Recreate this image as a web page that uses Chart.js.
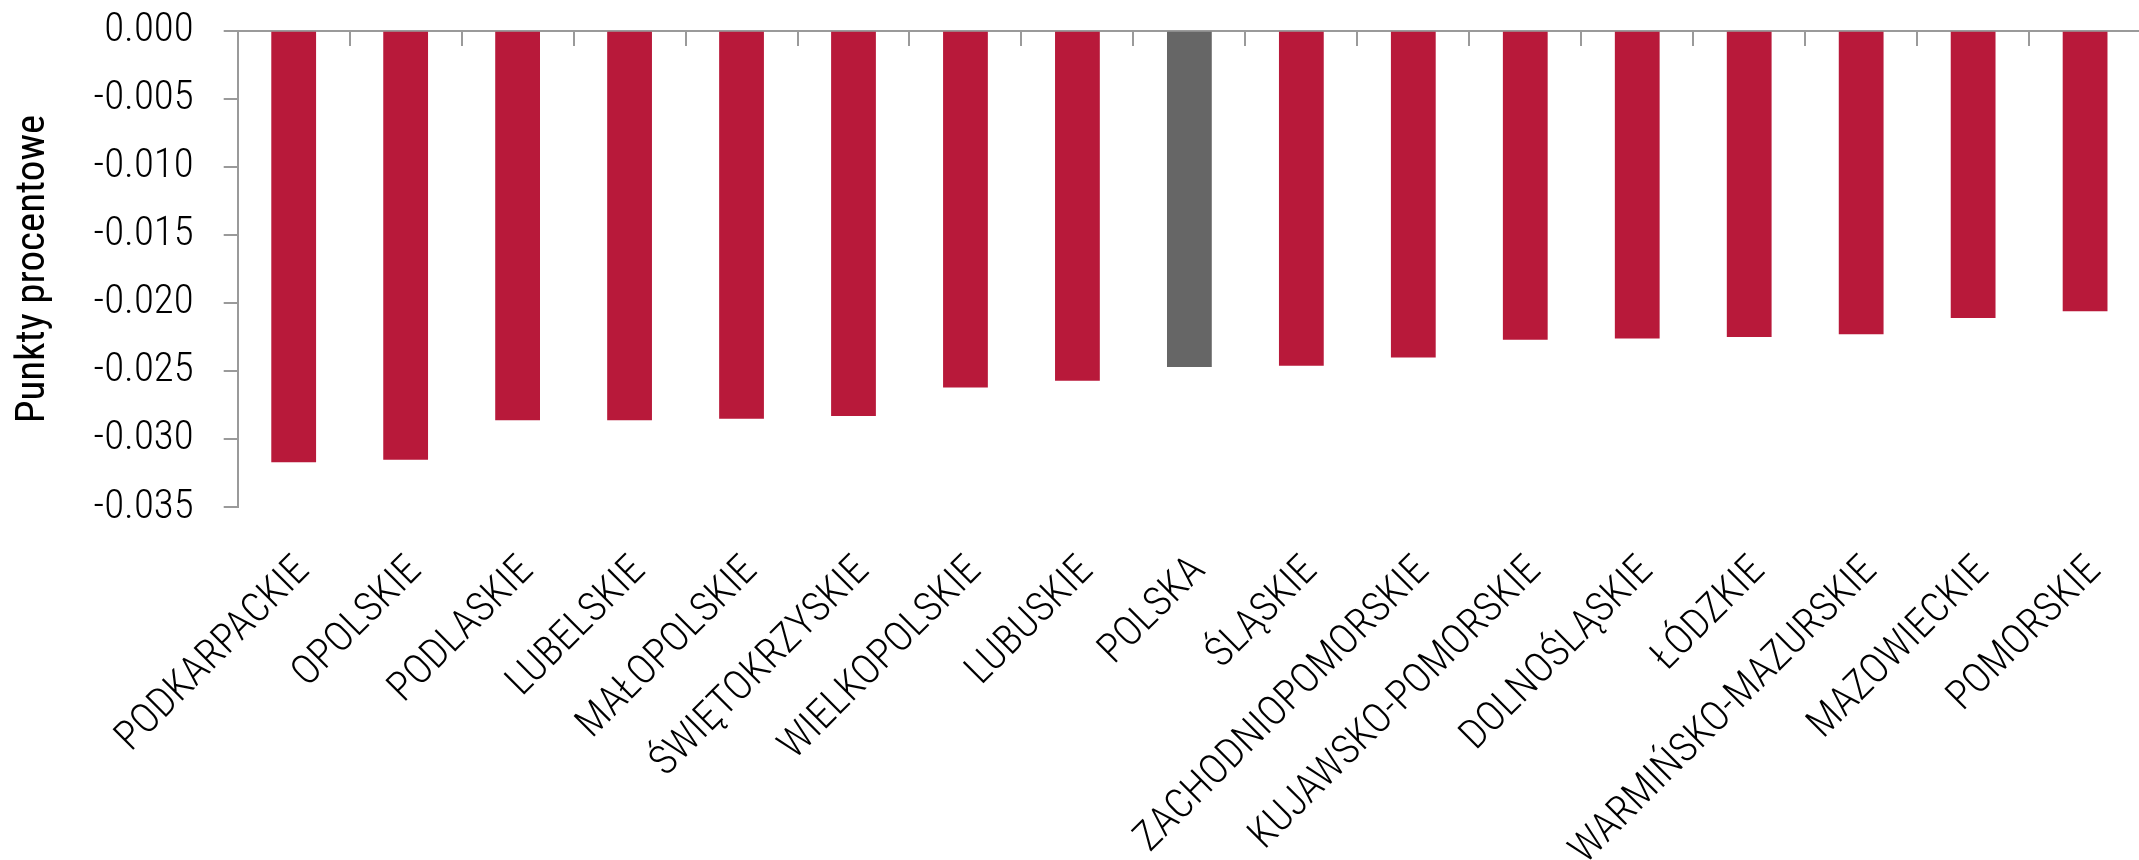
<!DOCTYPE html>
<html>
<head>
<meta charset="utf-8">
<script src="https://cdn.jsdelivr.net/npm/chart.js@4.4.0/dist/chart.umd.min.js"></script>
<style>
  html, body { margin: 0; padding: 0; background: #fff; overflow: hidden; }
  /* plot runs a little past the right edge of the window, as in the original */
  #wrap { width: 2160px; height: 860px; }
</style>
</head>
<body>
<div id="wrap"><canvas id="chart"></canvas></div>
<script>
var regions = ["PODKARPACKIE", "OPOLSKIE", "PODLASKIE", "LUBELSKIE", "MAŁOPOLSKIE", "ŚWIĘTOKRZYSKIE",
  "WIELKOPOLSKIE", "LUBUSKIE", "POLSKA", "ŚLĄSKIE", "ZACHODNIOPOMORSKIE", "KUJAWSKO-POMORSKIE",
  "DOLNOŚLĄSKIE", "ŁÓDZKIE", "WARMIŃSKO-MAZURSKIE", "MAZOWIECKIE", "POMORSKIE"];
var values = [-0.0317, -0.0315, -0.0286, -0.0286, -0.0285, -0.0283,
  -0.0262, -0.0257, -0.0247, -0.0246, -0.0240, -0.0227,
  -0.0226, -0.0225, -0.0223, -0.0211, -0.0206];
var highlight = "POLSKA";
var yTitle = "Punkty procentowe";

var red = "#b8193a";
var grey = "#666666";
var axisColor = "#9a9a9a";
var fontFamily = "'Roboto Condensed', 'Liberation Sans Narrow', Roboto, sans-serif";

var barColors = [];
for (i = 0; i < regions.length; i++) {
  barColors.push(regions[i] == highlight ? grey : red);
}

new Chart("chart", {
  type: "bar",
  data: {
    labels: regions,
    datasets: [{
      data: values,
      backgroundColor: barColors,
      borderWidth: 0,
      barPercentage: 0.8,
      categoryPercentage: 0.5,
      xAxisID: "x",
      yAxisID: "y"
    }]
  },
  options: {
    responsive: true,
    maintainAspectRatio: false,
    animation: false,
    layout: { padding: { top: 30.7, right: 4, left: 0, bottom: 0 } },
    plugins: {
      legend: { display: false },
      tooltip: { enabled: false }
    },
    scales: {
      x: {
        position: "bottom",
        grid: { display: false, drawTicks: false },
        border: { display: false },
        ticks: {
          autoSkip: false,
          minRotation: 45,
          maxRotation: 45,
          padding: 40,
          labelOffset: 10,
          color: "#000",
          font: { family: fontFamily, size: 41, weight: 300 }
        },
        afterFit: function(scale) { scale.height = 352.7; }
      },
      // zero line with the small category ticks hanging under it
      x2: {
        type: "category",
        axis: "x",
        position: { y: 0 },
        offset: true,
        grid: { offset: true, drawOnChartArea: false, tickLength: 14, color: axisColor, lineWidth: 2 },
        border: { display: true, color: axisColor, width: 2 },
        ticks: { display: false }
      },
      y: {
        min: -0.035,
        max: 0,
        ticks: {
          stepSize: 0.005,
          padding: 30,
          color: "#000",
          font: { family: fontFamily, size: 41, weight: 300 },
          callback: function(v) { return v.toFixed(3); }
        },
        grid: { drawOnChartArea: false, tickLength: 14, color: axisColor, lineWidth: 2 },
        border: { color: axisColor, width: 2 },
        title: {
          display: true,
          text: yTitle,
          color: "#000",
          padding: { top: 9, bottom: 0 },
          font: { family: fontFamily, size: 41 }
        },
        afterFit: function(scale) {
          scale.width = 237.7;
          // keep the label half-heights from pushing the plot area in
          scale.paddingTop = 0;
          scale.paddingBottom = 0;
        }
      }
    }
  }
});
</script>
</body>
</html>
